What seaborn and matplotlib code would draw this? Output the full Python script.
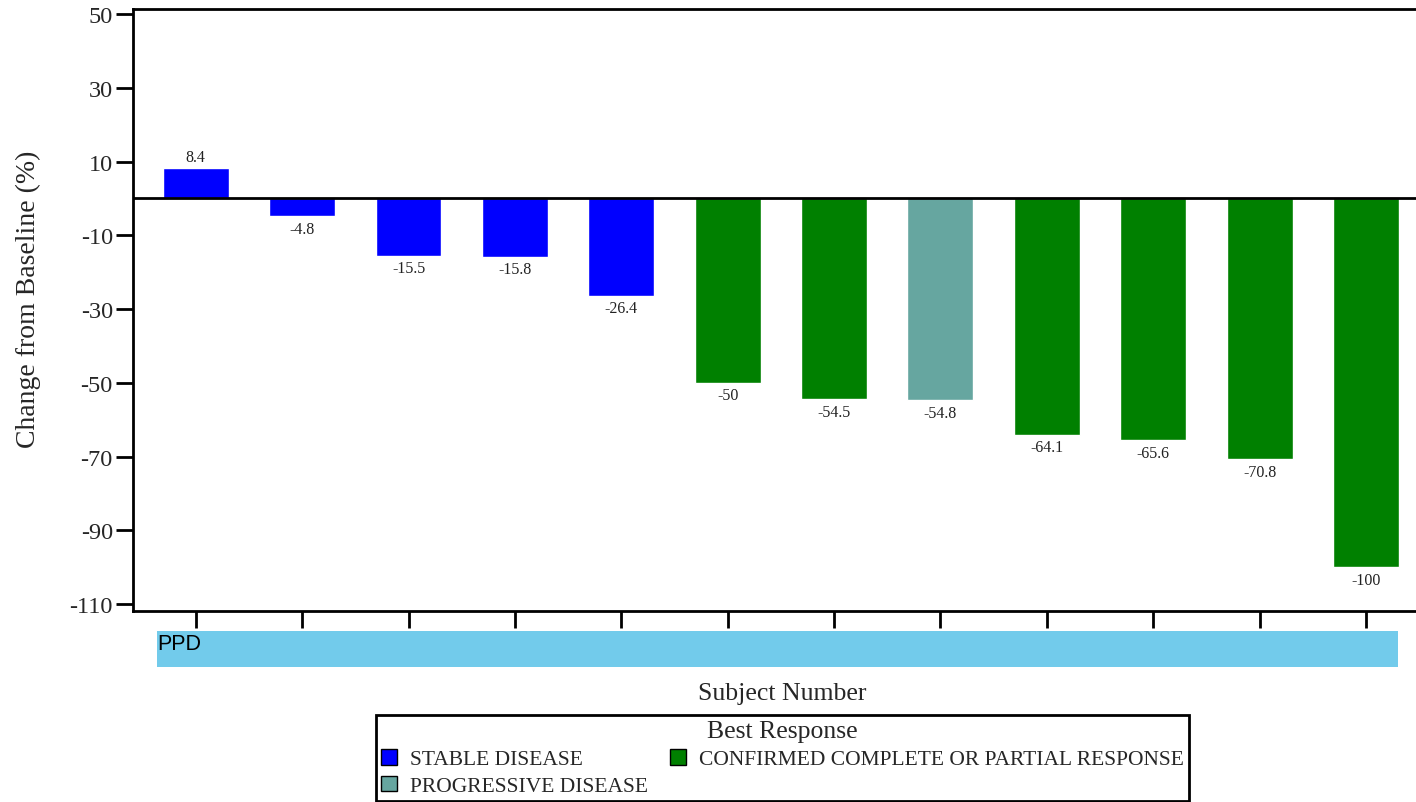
import matplotlib
matplotlib.use("Agg")
import matplotlib.pyplot as plt
from matplotlib.patches import Rectangle, Patch
import seaborn as sns
import pandas as pd

# Best percentage change from baseline per subject, ordered for the waterfall
subjects = [f"S{i:02d}" for i in range(1, 13)]
changes = [8.4, -4.8, -15.5, -15.8, -26.4, -50, -54.5, -54.8, -64.1, -65.6, -70.8, -100]
value_labels = ["8.4", "-4.8", "-15.5", "-15.8", "-26.4", "-50", "-54.5", "-54.8",
                "-64.1", "-65.6", "-70.8", "-100"]
SD = "STABLE DISEASE"
PD = "PROGRESSIVE DISEASE"
CR = "CONFIRMED COMPLETE OR PARTIAL RESPONSE"
responses = [SD, SD, SD, SD, SD, CR, CR, PD, CR, CR, CR, CR]
response_order = [SD, PD, CR]
palette = {SD: "#0000FF", PD: "#66A6A0", CR: "#008000"}
y_ticks = [50, 30, 10, -10, -30, -50, -70, -90, -110]

df = pd.DataFrame({"subject": subjects, "change": changes, "response": responses})

sns.set_theme(style="white")
plt.rcParams["font.family"] = ["Liberation Serif", "DejaVu Serif"]

fig = plt.figure(figsize=(14.16, 8.03), dpi=100)
ax = fig.add_axes([0.0939, 0.2379, 0.9061, 0.7496])

sns.barplot(data=df, x="subject", y="change", hue="response", hue_order=response_order,
            palette=palette, dodge=False, width=0.62, saturation=1, legend=False, ax=ax)

# value annotations above positive and below negative bars
for i, (v, lab) in enumerate(zip(changes, value_labels)):
    if v >= 0:
        ax.text(i, v + 0.7, lab, ha="center", va="bottom", fontsize=11.5, color="#222222")
    else:
        ax.text(i, v - 1.2, lab, ha="center", va="top", fontsize=11.5, color="#222222")

ax.axhline(0, color="black", lw=2, zorder=3)
ax.set_xlim(-0.59, 11.47)
ax.set_ylim(-111.9, 51.4)
ax.set_yticks(y_ticks)
ax.set_yticklabels([str(t) for t in y_ticks], fontsize=17.5)
ax.set_xticks(range(len(subjects)))
ax.set_xticklabels([])
ax.tick_params(axis="y", direction="out", length=12, width=2, color="black", pad=2.5, left=True)
ax.tick_params(axis="x", direction="out", length=12, width=2, color="black", bottom=True)

for side in ["left", "top", "bottom"]:
    ax.spines[side].set_visible(True)
    ax.spines[side].set_color("black")
    ax.spines[side].set_linewidth(2)
ax.spines["right"].set_visible(False)

ax.set_ylabel("Change from Baseline (%)", fontsize=20)
ax.yaxis.set_label_coords(-0.072, 0.52)
ax.set_xlabel("")

# study population band below the axis
fig.add_artist(Rectangle((0.1109, 0.1681), 0.8764, 0.0448, transform=fig.transFigure,
                         facecolor="#72CBEB", edgecolor="none"))
fig.text(0.1109, 0.2105, "PPD", ha="left", va="top", fontsize=15.5,
         family=["Liberation Sans", "DejaVu Sans"], color="black")

fig.text(0.5523, 0.136, "Subject Number", ha="center", va="center", fontsize=18.5)

handles = [Patch(facecolor=palette[r], edgecolor="black", label=r) for r in response_order]
leg = fig.legend(handles=handles, ncol=2, title="Best Response", loc="center",
                 bbox_to_anchor=(0.5526, 0.0545), frameon=True, fancybox=False,
                 framealpha=1, fontsize=15.5, title_fontsize=18.5,
                 handlelength=0.75, handleheight=0.75, handletextpad=0.6,
                 columnspacing=1.0, labelspacing=0.3, borderpad=0.25, borderaxespad=0)
leg.get_frame().set_edgecolor("black")
leg.get_frame().set_linewidth(2)

fig.savefig("out.png", dpi=100, facecolor="white")
